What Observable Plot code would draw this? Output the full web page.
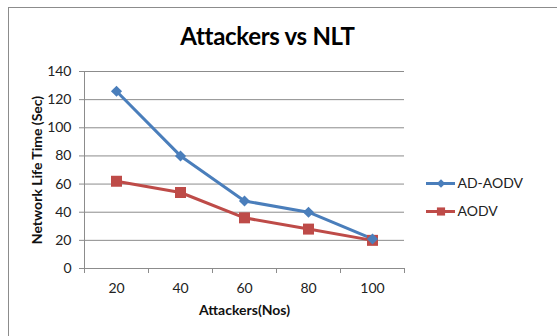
<!DOCTYPE html>
<html>
<head>
<meta charset="utf-8">
<script src="https://cdn.jsdelivr.net/npm/d3@7"></script>
<script src="https://cdn.jsdelivr.net/npm/@observablehq/plot@0.6"></script>
<style>
  html, body { margin: 0; padding: 0; background: #fff; }
  #chart { position: relative; width: 557px; height: 336px; overflow: hidden; font-family: Lato, "Open Sans", sans-serif; }
  #frame { position: absolute; left: 8px; top: 7px; width: 600px; height: 400px; border: 1px solid #8c8c8c; box-sizing: border-box; }
  #title { position: absolute; left: 0; width: 535px; top: 21px; text-align: center; font-weight: bold; font-size: 24px; color: #000; letter-spacing: -0.3px; }
  #plot, #legend { position: absolute; }
  #plot { left: 0; top: 0; }
  #legend { left: 420px; top: 168px; }
</style>
</head>
<body>
<div id="chart">
  <div id="frame"></div>
  <div id="title">Attackers vs NLT</div>
  <div id="plot"></div>
  <div id="legend"></div>
</div>
<script>
// Attackers on the x axis, network life time (seconds) per protocol
const attackers = [20, 40, 60, 80, 100];
const adAodv = [126, 80, 48, 40, 21];
const aodv = [62, 54, 36, 28, 20];
const seriesNames = ["AD-AODV", "AODV"];
const yTicks = [0, 20, 40, 60, 80, 100, 120, 140];

const colors = {"AD-AODV": "#4a7ebb", "AODV": "#be4b48"};
const symbols = {"AD-AODV": "diamond2", "AODV": "square"};
const radius = {"AD-AODV": 5, "AODV": 6.2};

const rows = [
  ...attackers.map((a, i) => ({series: "AD-AODV", x: a, y: adAodv[i]})),
  ...attackers.map((a, i) => ({series: "AODV", x: a, y: aodv[i]}))
];

// category boundaries, where the small x tick marks sit
const step = attackers[1] - attackers[0];
const bounds = [attackers[0] - step / 2, ...attackers.map(a => a + step / 2)];

const axisColor = "#8c8c8c";
const font = "Lato, 'Open Sans', sans-serif";

const plot = Plot.plot({
  width: 557,
  height: 336,
  marginLeft: 84,
  marginRight: 153,
  marginTop: 71,
  marginBottom: 68,
  style: {fontFamily: font, fontSize: "14px", color: "#222", background: "transparent"},
  x: {domain: [bounds[0], bounds[bounds.length - 1]]},
  y: {domain: [0, 140]},
  r: {type: "identity"},
  symbol: {type: "identity"},
  marks: [
    Plot.gridY(yTicks, {stroke: axisColor, strokeOpacity: 1}),
    Plot.ruleX([bounds[0]], {y1: 0, y2: 140, stroke: axisColor}),
    Plot.ruleY([0], {stroke: axisColor}),
    Plot.axisY({ticks: yTicks, tickSize: 5, tickPadding: 8, stroke: axisColor, label: null, fill: "#222"}),
    Plot.axisX({ticks: bounds, tickSize: 5, tickFormat: () => "", stroke: axisColor, label: null}),
    Plot.axisX({ticks: attackers, tickSize: 0, tickPadding: 15, label: null, fill: "#222"}),
    Plot.line(rows, {x: "x", y: "y", z: "series", stroke: d => colors[d.series], strokeWidth: 3}),
    Plot.dot(rows, {x: "x", y: "y", symbol: d => symbols[d.series], r: d => radius[d.series], fill: d => colors[d.series], stroke: "none"}),
    Plot.text(["Attackers(Nos)"], {frameAnchor: "bottom", dy: 46, textAnchor: "middle", fontWeight: "bold", fontSize: 14, fill: "#111"}),
    Plot.text(["Network Life Time (Sec)"], {frameAnchor: "left", dx: -47, rotate: -90, textAnchor: "middle", fontWeight: "bold", fontSize: 14, fill: "#111"})
  ]
});
document.getElementById("plot").append(plot);

// legend: a short line with its marker, then the series name
const legend = Plot.plot({
  width: 137,
  height: 60,
  margin: 0,
  style: {fontFamily: font, fontSize: "14px", background: "transparent"},
  x: {domain: [0, 1], range: [6, 35], axis: null},
  y: {type: "point", domain: seriesNames, range: [14.7, 42.7], padding: 0, axis: null},
  r: {type: "identity"},
  symbol: {type: "identity"},
  marks: [
    Plot.ruleY(seriesNames, {y: d => d, x1: 0, x2: 1, stroke: d => colors[d], strokeWidth: 3}),
    Plot.dot(seriesNames, {x: 0.5, y: d => d, symbol: d => symbols[d], r: d => d === "AODV" ? 4.6 : 3.8, fill: d => colors[d], stroke: "none"}),
    Plot.text(seriesNames, {x: 1, y: d => d, text: d => d, dx: 2, textAnchor: "start", fill: "#222"})
  ]
});
document.getElementById("legend").append(legend);
</script>
</body>
</html>
